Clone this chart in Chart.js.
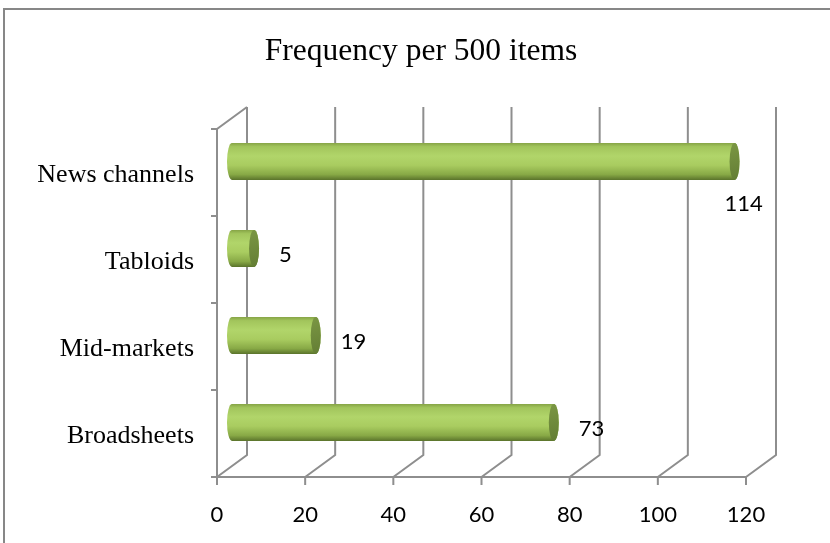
<!DOCTYPE html>
<html>
<head>
<meta charset="utf-8">
<script src="https://cdn.jsdelivr.net/npm/chart.js@4.4.1/dist/chart.umd.min.js"></script>
<style>
  html, body { margin: 0; padding: 0; background: #fff; }
  canvas { display: block; }
</style>
</head>
<body>
<canvas id="chart" width="830" height="543"></canvas>
<script>
const chartTitle = 'Frequency per 500 items';
const categories = ['News channels', 'Tabloids', 'Mid-markets', 'Broadsheets'];
const frequency = [114, 5, 19, 73];
const xTicks = [0, 20, 40, 60, 80, 100, 120];

// Offsets of the front and back planes of the 3-D box from the plotting plane
const DEPTH_X = 15;
const DEPTH_Y = 11;
const LINE = '#8e8e8e';

// Outer chart frame and the heading, centred on the frame
const frame = {
  id: 'frame',
  beforeDraw(chart) {
    const c = chart.ctx;
    c.save();
    c.strokeStyle = '#878787';
    c.lineWidth = 2;
    c.strokeRect(4, 9, 900, 600);
    c.font = '31.5px "Liberation Serif"';
    c.fillStyle = '#000';
    c.textAlign = 'center';
    c.textBaseline = 'alphabetic';
    c.fillText(chartTitle, 421, 60);
    c.restore();
  }
};

// Back wall, floor and side wall of the 3-D plot box
const walls = {
  id: 'walls',
  beforeDatasetsDraw(chart) {
    const { ctx, chartArea: a, scales: { x } } = chart;
    const fTop = a.top + DEPTH_Y, fBot = a.bottom + DEPTH_Y;
    const bTop = a.top - DEPTH_Y, bBot = a.bottom - DEPTH_Y;
    ctx.save();
    ctx.strokeStyle = LINE;
    ctx.lineWidth = 2;
    ctx.beginPath();
    xTicks.forEach(v => {
      const px = x.getPixelForValue(v);
      const fx = px - DEPTH_X, bx = px + DEPTH_X;
      ctx.moveTo(bx, bTop);
      ctx.lineTo(bx, bBot);
      ctx.lineTo(fx, fBot);
      ctx.moveTo(fx, fBot);
      ctx.lineTo(fx, fBot + 8);
    });
    const f0 = x.getPixelForValue(xTicks[0]) - DEPTH_X;
    const fN = x.getPixelForValue(xTicks[xTicks.length - 1]) - DEPTH_X;
    ctx.moveTo(f0, fBot);
    ctx.lineTo(fN, fBot);
    // side wall edge
    ctx.moveTo(f0 + DEPTH_X * 2, bTop);
    ctx.lineTo(f0, fTop);
    ctx.lineTo(f0, fBot);
    // category separators
    const n = categories.length;
    for (let i = 0; i <= n; i++) {
      const yy = fTop + (fBot - fTop) * i / n;
      ctx.moveTo(f0 - 6, yy);
      ctx.lineTo(f0, yy);
    }
    ctx.stroke();
    ctx.restore();
  }
};

// Cylinder bars and their value labels
const cylinders = {
  id: 'cylinders',
  afterDatasetsDraw(chart) {
    const ctx = chart.ctx;
    const meta = chart.getDatasetMeta(0);
    ctx.save();
    meta.data.forEach((bar, i) => {
      const { x: end, y: cy, base, height: h } = bar.getProps(['x', 'y', 'base', 'height'], true);
      const ry = h / 2, rx = 5, top = cy - ry, bot = cy + ry;

      const g = ctx.createLinearGradient(0, top, 0, bot);
      g.addColorStop(0, '#86a446');
      g.addColorStop(0.1, '#a2c55c');
      g.addColorStop(0.35, '#b1d56a');
      g.addColorStop(0.6, '#a9cc60');
      g.addColorStop(0.85, '#88a946');
      g.addColorStop(1, '#5a732b');
      ctx.beginPath();
      ctx.moveTo(base, top);
      ctx.lineTo(end, top);
      ctx.ellipse(end, cy, rx, ry, 0, -Math.PI / 2, Math.PI / 2);
      ctx.lineTo(base, bot);
      ctx.ellipse(base, cy, rx, ry, 0, Math.PI / 2, Math.PI * 1.5);
      ctx.closePath();
      ctx.fillStyle = g;
      ctx.fill();

      const cg = ctx.createLinearGradient(end - rx, top, end + rx, bot);
      cg.addColorStop(0, '#7b9744');
      cg.addColorStop(1, '#637d34');
      ctx.beginPath();
      ctx.ellipse(end, cy, rx, ry, 0, 0, Math.PI * 2);
      ctx.fillStyle = cg;
      ctx.fill();

      ctx.font = '22px Lato';
      ctx.fillStyle = '#000';
      ctx.textBaseline = 'middle';
      const txt = String(frequency[i]);
      const w = ctx.measureText(txt).width;
      if (end + 25 + w > chart.chartArea.right) {
        ctx.textAlign = 'center';
        ctx.fillText(txt, end + 9, cy + 42);
      } else {
        ctx.textAlign = 'left';
        ctx.fillText(txt, end + 25, cy + 6);
      }
    });
    ctx.restore();
  }
};

new Chart(document.getElementById('chart'), {
  type: 'bar',
  data: {
    labels: categories,
    datasets: [{
      data: frequency,
      backgroundColor: 'rgba(0,0,0,0)',
      borderWidth: 0,
      barThickness: 37
    }]
  },
  options: {
    indexAxis: 'y',
    responsive: false,
    animation: false,
    layout: { padding: { top: 118, left: 0, right: 69, bottom: 0 } },
    plugins: {
      legend: { display: false },
      tooltip: { enabled: false },
      title: { display: false }
    },
    scales: {
      x: {
        min: 0,
        max: 120,
        ticks: {
          stepSize: 20,
          color: '#000',
          font: { family: 'Lato', size: 22 },
          padding: 36,
          labelOffset: -DEPTH_X
        },
        grid: { display: false, drawTicks: false },
        border: { display: false },
        afterFit(scale) { scale.height = 77; }
      },
      y: {
        ticks: {
          color: '#000',
          font: { family: 'Liberation Serif', size: 26 },
          padding: 38,
          labelOffset: 14
        },
        grid: { display: false, drawTicks: false },
        border: { display: false },
        afterFit(scale) { scale.width = 232; }
      }
    }
  },
  plugins: [frame, walls, cylinders]
});
</script>
</body>
</html>
